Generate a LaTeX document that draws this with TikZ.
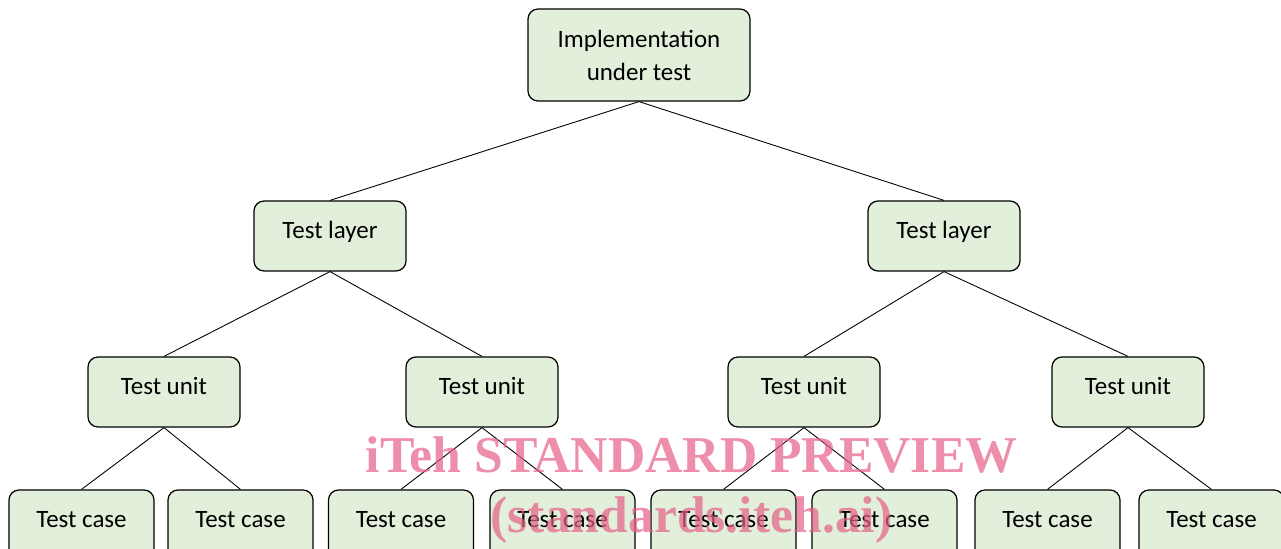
\documentclass[tikz,border=0pt]{standalone}
\usepackage{fontspec}
\setmainfont{Carlito}
\newfontfamily\wmfont{Liberation Serif}
\definecolor{boxgreen}{RGB}{226,239,218}
\definecolor{wmpink}{RGB}{230,96,136}

\begin{document}
\begin{tikzpicture}[
		treebox/.style={draw=black, line width=0.7pt, fill=boxgreen, rounded corners=0.2cm,
			minimum width=3.04cm, minimum height=1.4cm, align=center,
			font=\fontsize{14.2}{18.8}\selectfont},
		linebox/.style={treebox, text height=0.4cm, text depth=0.3cm},
		casebox/.style={linebox, minimum width=2.9cm},
		branch/.style={-, black, line width=0.5pt}
	]
			\useasboundingbox (0, 0) rectangle (25.62, -10.98);

			\node[treebox, minimum width=4.44cm, minimum height=1.84cm] (iut) at (12.78, -1.10) {Implementation\\under test};

			\node[linebox] (layerA) at (6.60, -4.72) {Test layer};
			\node[linebox] (layerB) at (18.88, -4.72) {Test layer};

			\node[linebox] (unitA) at (3.28, -7.84) {Test unit};
			\node[linebox] (unitB) at (9.64, -7.84) {Test unit};
			\node[linebox] (unitC) at (16.08, -7.84) {Test unit};
			\node[linebox] (unitD) at (22.56, -7.84) {Test unit};

			\node[casebox] (caseA) at (1.63, -10.50) {Test case};
			\node[casebox] (caseB) at (4.81, -10.50) {Test case};
			\node[casebox] (caseC) at (8.02, -10.50) {Test case};
			\node[casebox] (caseD) at (11.25, -10.50) {Test case};
			\node[casebox] (caseE) at (14.47, -10.50) {Test case};
			\node[casebox] (caseF) at (17.69, -10.50) {Test case};
			\node[casebox] (caseG) at (20.95, -10.50) {Test case};
			\node[casebox] (caseH) at (24.23, -10.50) {Test case};

			\draw[branch]	(iut.south) to (layerA.north)
							(iut.south) to (layerB.north);

			\draw[branch]	(layerA.south) to (unitA.north)
							(layerA.south) to (unitB.north)
							(layerB.south) to (unitC.north)
							(layerB.south) to (unitD.north);

			\draw[branch]	(unitA.south) to (caseA.north)
							(unitA.south) to (caseB.north)
							(unitB.south) to (caseC.north)
							(unitB.south) to (caseD.north)
							(unitC.south) to (caseE.north)
							(unitC.south) to (caseF.north)
							(unitD.south) to (caseG.north)
							(unitD.south) to (caseH.north);

			\node[text=wmpink, opacity=0.7, align=center, font=\wmfont\bfseries\fontsize{29.4}{34}\selectfont]
				(preview) at (13.83, -9.80) {iTeh STANDARD PREVIEW\\(standards.iteh.ai)};
		\end{tikzpicture}
\end{document}
